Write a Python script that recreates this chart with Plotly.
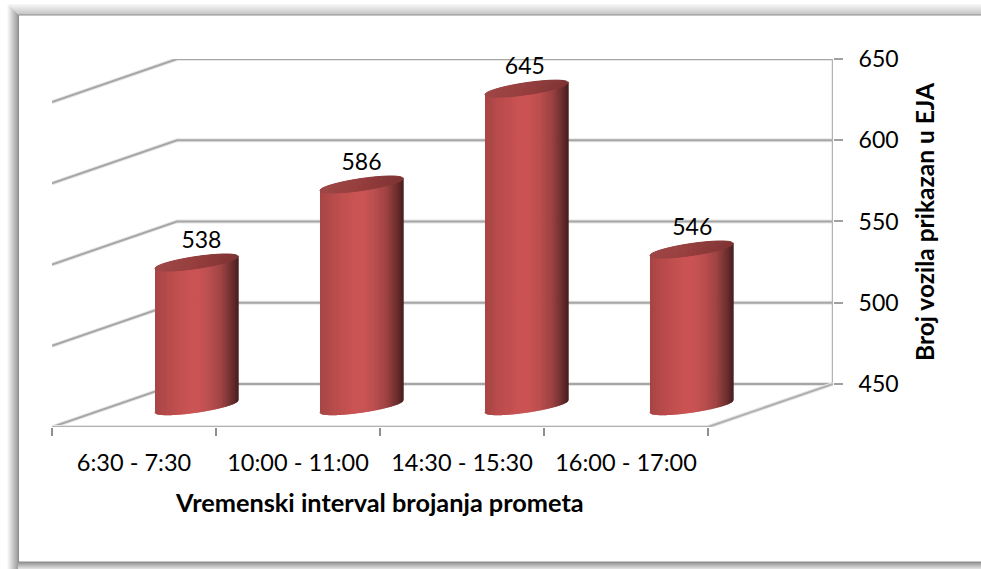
import numpy as np
import plotly.graph_objects as go

categories = ["6:30 - 7:30", "10:00 - 11:00", "14:30 - 15:30", "16:00 - 17:00"]
vehicles = [538, 586, 645, 546]
y_ticks = [450, 500, 550, 600, 650]

x_title = "Vremenski interval brojanja prometa"
y_title = "Broj vozila prikazan u EJA"

W, H = 981, 569
FONT = "Lato, Carlito, sans-serif"

# fake 3d: the back wall is the front floor pushed right and up
depth_x = 0.762
depth_y = 26.5
half_w = 0.253
tilt = 3.7
bulge = 3.7
spacing = 1.006
y_low = y_ticks[0] - depth_y
base = y_ticks[0] - depth_y / 2 - 0.3

body_stops = [(-1, "#a84646"), (-0.7, "#b94c4c"), (-0.2, "#ca5454"), (0.05, "#ca5454"),
              (0.3, "#bd5050"), (0.6, "#a04444"), (0.85, "#6e3030"), (1, "#4a2020")]
cap_stops = [(-1, "#a04848"), (0, "#963f3f"), (1, "#803535")]
label_dx = [0.03, 0.0, -0.01, 0.005]


def shade(stops, t):
    ts = [s[0] for s in stops]
    rgb = [[int(s[1][i:i + 2], 16) for s in stops] for i in (1, 3, 5)]
    return "rgb(%d,%d,%d)" % tuple(np.interp(t, ts, c) for c in rgb)


def arc(t, sign):
    return tilt * t + sign * bulge * np.sqrt(max(1 - t * t, 0))


fig = go.Figure()


def add_line(xs, ys, color, width):
    fig.add_trace(go.Scatter(x=xs, y=ys, mode="lines", line=dict(color=color, width=width),
                             hoverinfo="skip", showlegend=False))


# walls and floor, each with a soft halo under it
for v in y_ticks:
    add_line([0, depth_x, 4 + depth_x], [v - depth_y, v, v], "#e6e6e6", 4)
    add_line([0, depth_x, 4 + depth_x], [v - depth_y, v, v], "#a6a6a6", 2)
add_line([4 + depth_x, 4 + depth_x], [y_ticks[0], y_ticks[-1]], "#b4b4b4", 2.5)
add_line([0, 4, 4 + depth_x], [y_low, y_low, y_ticks[0]], "#e6e6e6", 4)
add_line([0, 4, 4 + depth_x], [y_low, y_low, y_ticks[0]], "#b0b0b0", 2)

# cylinders, painted as thin vertical strips
edges = np.linspace(-1, 1, 84)
centers = [0.5 + depth_x / 2 + i * spacing for i in range(len(vehicles))]
for cx, v in zip(centers, vehicles):
    top = v - depth_y / 2
    for a, b in zip(edges[:-1], edges[1:]):
        mid = (a + b) / 2
        xs = [cx + a * half_w, cx + b * half_w, cx + b * half_w, cx + a * half_w]
        col = shade(body_stops, mid)
        fig.add_trace(go.Scatter(
            x=xs, y=[base + arc(a, -1), base + arc(b, -1), top + arc(b, 0), top + arc(a, 0)],
            mode="lines", fill="toself", fillcolor=col, line=dict(color=col, width=1.5),
            hoverinfo="skip", showlegend=False))
    for a, b in zip(edges[:-1], edges[1:]):
        mid = (a + b) / 2
        xs = [cx + a * half_w, cx + b * half_w, cx + b * half_w, cx + a * half_w]
        col = shade(cap_stops, mid)
        fig.add_trace(go.Scatter(
            x=xs, y=[top + arc(a, -1), top + arc(b, -1), top + arc(b, 1), top + arc(a, 1)],
            mode="lines", fill="toself", fillcolor=col, line=dict(color=col, width=1),
            hoverinfo="skip", showlegend=False))

# value labels
fig.add_trace(go.Scatter(
    x=[c + d for c, d in zip(centers, label_dx)],
    y=[v - 0.5 for v in vehicles],
    text=[str(v) for v in vehicles],
    mode="text", textposition="middle center", cliponaxis=False,
    textfont=dict(family=FONT, size=23, color="#000000"),
    hoverinfo="skip", showlegend=False))

# second x axis only carries the category names
fig.add_trace(go.Scatter(x=[0.5], y=[y_low], xaxis="x2", mode="markers",
                         marker=dict(opacity=0), hoverinfo="skip", showlegend=False))

# drop shadow of the chart frame
shapes = []
for k in range(11):
    g = int(250 - k * 9)
    shapes.append(dict(type="rect", xref="paper", yref="paper", layer="below", line_width=0,
                       fillcolor="rgb(%d,%d,%d)" % (g, g, g),
                       x0=(7 + k) / W, x1=(8 + k) / W, y0=1 - 569 / H, y1=1 - (4 + k) / H))
    t = int(246 - k * 5)
    shapes.append(dict(type="rect", xref="paper", yref="paper", layer="below", line_width=0,
                       fillcolor="rgb(%d,%d,%d)" % (t, t, t),
                       x0=(8 + k) / W, x1=1, y0=1 - (5 + k) / H, y1=1 - (4 + k) / H))
for k in range(7):
    g = int(150 + k * 12)
    shapes.append(dict(type="rect", xref="paper", yref="paper", layer="below", line_width=0,
                       fillcolor="rgb(%d,%d,%d)" % (g, g, g),
                       x0=18 / W, x1=1, y0=1 - (563 + k) / H, y1=1 - (562 + k) / H))
shapes.append(dict(type="rect", xref="paper", yref="paper", layer="below",
                   line=dict(color="#8c8c8c", width=1), fillcolor="#ffffff",
                   x0=18.5 / W, x1=1.01, y0=1 - 562 / H, y1=1 - 15 / H))

fig.update_layout(
    width=W, height=H, autosize=False,
    margin=dict(l=0, r=0, t=0, b=0),
    paper_bgcolor="#ffffff", plot_bgcolor="rgba(0,0,0,0)",
    showlegend=False,
    shapes=shapes,
    xaxis=dict(domain=[52 / W, 833 / W], range=[0, 4 + depth_x], showgrid=False, zeroline=False,
               showline=False, tickvals=[0, 1, 2, 3, 4], ticktext=[""] * 5, automargin=False,
               ticks="outside", ticklen=8, tickwidth=1.5, tickcolor="#8f8f8f", anchor="y"),
    xaxis2=dict(domain=[52 / W, 833 / W], range=[0, 4 + depth_x], overlaying="x", side="bottom",
                showgrid=False, zeroline=False, showline=False, anchor="y", automargin=False,
                tickvals=[i + 0.5 for i in range(4)], ticktext=categories,
                ticks="outside", ticklen=15, tickcolor="rgba(0,0,0,0)",
                tickfont=dict(family=FONT, size=23.5, color="#000000")),
    yaxis=dict(domain=[1 - 427 / H, 1 - 59 / H], range=[y_low, y_ticks[-1]], side="right",
               showgrid=False, zeroline=False, showline=False, tickvals=y_ticks, automargin=False,
               ticks="outside", ticklen=9, tickwidth=1.5, tickcolor="#a0a0a0",
               ticklabelstandoff=11,
               tickfont=dict(family=FONT, size=23, color="#000000")),
    annotations=[
        dict(text="<b>%s</b>" % x_title, xref="paper", yref="paper", x=379.5 / W, y=1 - 502 / H,
             showarrow=False, xanchor="center", yanchor="middle",
             font=dict(family=FONT, size=25.3, color="#000000")),
        dict(text="<b>%s</b>" % y_title, xref="paper", yref="paper", x=924 / W, y=1 - 222 / H,
             showarrow=False, xanchor="center", yanchor="middle", textangle=-90,
             font=dict(family=FONT, size=24.5, color="#000000")),
    ],
)

fig.write_html("out.html", post_script="document.body.style.margin='0';", config=dict(displayModeBar=False))
